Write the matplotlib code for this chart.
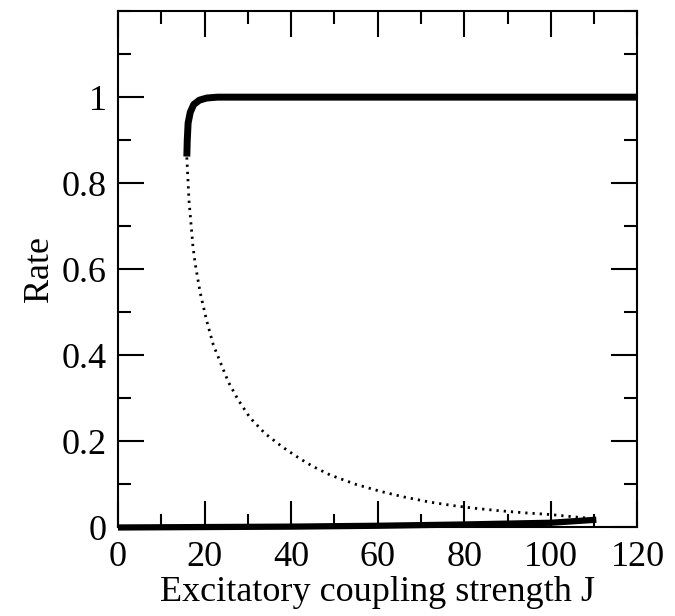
import matplotlib
matplotlib.use("Agg")
import matplotlib.pyplot as plt
from matplotlib.ticker import MultipleLocator

plt.rcParams['font.family'] = ['Liberation Serif', 'DejaVu Serif']

# upper (active) branch
j_high = [15.9, 16.0, 16.2, 16.7, 17.5, 18.8, 20.5, 23.0, 27.0, 40.0, 60.0, 80.0, 100.0, 120.0]
r_high = [0.862, 0.90, 0.94, 0.965, 0.983, 0.993, 0.998, 1.0, 1.0, 1.0, 1.0, 1.0, 1.0, 1.0]

# unstable branch (dotted)
j_mid = [15.9, 16.4, 17.3, 17.8, 19.0, 20.5, 22.0, 23.6, 25.5, 27.8, 30.5, 34.0, 38.0, 42.0,
         45.0, 49.0, 55.0, 60.6, 66.0, 72.0, 78.0, 83.0, 88.0, 94.0, 100.0, 105.0, 110.5]
r_mid = [0.86, 0.76, 0.655, 0.615, 0.545, 0.48, 0.425, 0.385, 0.338, 0.296, 0.255, 0.218, 0.187, 0.16,
         0.142, 0.122, 0.1, 0.084, 0.071, 0.059, 0.05, 0.044, 0.039, 0.034, 0.03, 0.025, 0.02]

# lower (quiet) branch
j_low = [0, 20, 40, 60, 80, 100, 110.5]
r_low = [0.0, 0.001, 0.002, 0.004, 0.007, 0.011, 0.018]

x_ticks = [0, 20, 40, 60, 80, 100, 120]
x_labels = ['0', '20', '40', '60', '80', '100', '120']
y_ticks = [0, 0.2, 0.4, 0.6, 0.8, 1.0]
y_labels = ['0', '0.2', '0.4', '0.6', '0.8', '1']

fig = plt.figure(figsize=(6.75, 6.16), dpi=100)
ax = fig.add_axes([0.1748, 0.1437, 0.7696, 0.8383])

ax.plot(j_high, r_high, color='black', lw=5.0, solid_capstyle='butt')
ax.plot(j_mid, r_mid, color='black', lw=2.0, linestyle=(0, (0.8, 1.8)))
ax.plot(j_low, r_low, color='black', lw=4.5, solid_capstyle='butt', clip_on=False)

ax.set_xlim(0, 120)
ax.set_ylim(0, 1.2)
ax.set_xticks(x_ticks, x_labels)
ax.set_yticks(y_ticks, y_labels)
ax.xaxis.set_minor_locator(MultipleLocator(10))
ax.yaxis.set_minor_locator(MultipleLocator(0.1))

ax.tick_params(which='both', direction='in', top=True, right=True, width=1.5, labelsize=26)
ax.tick_params(which='major', length=19)
ax.tick_params(which='minor', length=9.5)
ax.tick_params(axis='x', pad=10)
ax.tick_params(axis='y', pad=8)
for s in ax.spines.values():
    s.set_linewidth(1.5)

ax.set_xlabel('Excitatory coupling strength J', fontsize=26, labelpad=1)
ax.set_ylabel('Rate', fontsize=26, labelpad=4)

fig.savefig('out.png', dpi=100)
